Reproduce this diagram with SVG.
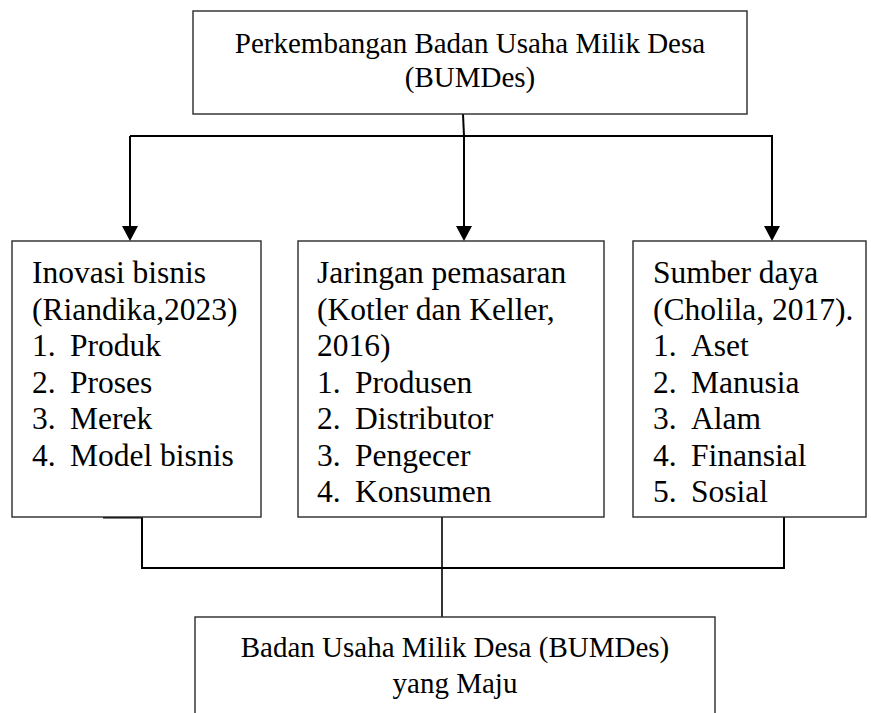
<svg xmlns="http://www.w3.org/2000/svg" width="871" height="713" viewBox="0 0 871 713">
<style>
.box{fill:#fff;stroke:#2a2a2a;stroke-width:1.4}
.t{font-family:"Liberation Serif","Times New Roman",serif;fill:#000}
.big{font-size:29px}
.b{font-size:31.5px}
.ln{fill:none;stroke:#000;stroke-width:2}
.ah{fill:#000}
</style>
<rect x="0" y="0" width="871" height="713" fill="#fff"/>
<g id="connectors">
<path class="ln" d="M463,114 L464,136"/>
<path class="ln" d="M130,136 L773,136"/>
<path class="ln" d="M130,136 L130,226"/>
<path class="ah" d="M122,226 L138,226 L130,241 Z"/>
<path class="ln" d="M464,136 L464,226"/>
<path class="ah" d="M456,226 L472,226 L464,241 Z"/>
<path class="ln" d="M772,136 L772,226"/>
<path class="ah" d="M764,226 L780,226 L772,241 Z"/>
<path class="ln" d="M103,517.5 L142,517.5 L142,568 L784,568 L784,517"/>
<path class="ln" d="M442,517 L442,617" style="stroke-width:1.6"/>
</g>
<g id="node-top">
<rect class="box" x="193" y="11" width="554" height="103"/>
<text class="t big" x="470" y="53" text-anchor="middle">Perkembangan Badan Usaha Milik Desa</text>
<text class="t big" x="470" y="87" text-anchor="middle">(BUMDes)</text>
</g>
<g id="node-inovasi">
<rect class="box" x="12" y="241" width="249" height="276"/>
<text class="t b" x="32" y="283">Inovasi bisnis</text>
<text class="t b" x="32" y="319.5">(Riandika,2023)</text>
<text class="t b" y="356"><tspan x="32">1.</tspan><tspan x="70">Produk</tspan></text>
<text class="t b" y="392.5"><tspan x="32">2.</tspan><tspan x="70">Proses</tspan></text>
<text class="t b" y="429"><tspan x="32">3.</tspan><tspan x="70">Merek</tspan></text>
<text class="t b" y="465.5"><tspan x="32">4.</tspan><tspan x="70">Model bisnis</tspan></text>
</g>
<g id="node-jaringan">
<rect class="box" x="298" y="241" width="306" height="276"/>
<text class="t b" x="317" y="283">Jaringan pemasaran</text>
<text class="t b" x="317" y="319.5">(Kotler dan Keller,</text>
<text class="t b" x="317" y="356">2016)</text>
<text class="t b" y="392.5"><tspan x="317">1.</tspan><tspan x="355">Produsen</tspan></text>
<text class="t b" y="429"><tspan x="317">2.</tspan><tspan x="355">Distributor</tspan></text>
<text class="t b" y="465.5"><tspan x="317">3.</tspan><tspan x="355">Pengecer</tspan></text>
<text class="t b" y="502"><tspan x="317">4.</tspan><tspan x="355">Konsumen</tspan></text>
</g>
<g id="node-sumber">
<rect class="box" x="633" y="241" width="233" height="276"/>
<text class="t b" x="653" y="283">Sumber daya</text>
<text class="t b" x="653" y="319.5">(Cholila, 2017).</text>
<text class="t b" y="356"><tspan x="653">1.</tspan><tspan x="691">Aset</tspan></text>
<text class="t b" y="392.5"><tspan x="653">2.</tspan><tspan x="691">Manusia</tspan></text>
<text class="t b" y="429"><tspan x="653">3.</tspan><tspan x="691">Alam</tspan></text>
<text class="t b" y="465.5"><tspan x="653">4.</tspan><tspan x="691">Finansial</tspan></text>
<text class="t b" y="502"><tspan x="653">5.</tspan><tspan x="691">Sosial</tspan></text>
</g>
<g id="node-bottom">
<rect class="box" x="195" y="617" width="520" height="110"/>
<text class="t big" x="455" y="657" text-anchor="middle">Badan Usaha Milik Desa (BUMDes)</text>
<text class="t big" x="455" y="693" text-anchor="middle">yang Maju</text>
</g>
</svg>
